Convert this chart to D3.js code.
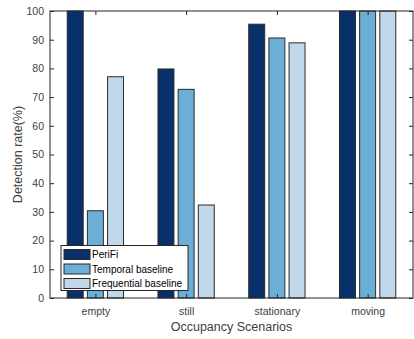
<!DOCTYPE html>
<html><head><meta charset="utf-8">
<script src="https://cdn.jsdelivr.net/npm/d3@7/dist/d3.min.js"></script>
<style>body{margin:0;background:#fff}svg{display:block}text{font-family:"Liberation Sans",Arial,sans-serif}</style>
</head><body>
<script>
const categories = ["empty","still","stationary","moving"];
const seriesNames = ["PeriFi","Temporal baseline","Frequential baseline"];
const periFi = [100, 79.8, 95.4, 100];
const temporal = [30.4, 72.7, 90.6, 100];
const frequential = [77.1, 32.4, 88.9, 100];
const yTicks = [0,10,20,30,40,50,60,70,80,90,100];
const colors = ["#08306b","#6baed6","#c0d8ea"];

const W=414,H=339;
const m={l:50,r:413,t:11,b:298};
const svg=d3.select("body").append("svg").attr("width",W).attr("height",H);
const x=d3.scaleLinear().domain([0.5,4.5]).range([m.l,m.r]);
const y=d3.scaleLinear().domain([0,100]).range([m.b,m.t]);
const series=[periFi,temporal,frequential];
const offs=[-0.2222,0,0.2222], bw=0.176;

series.forEach((s,si)=>{
  svg.append("g").selectAll("rect").data(s).join("rect")
    .attr("x",(d,i)=>x(i+1+offs[si]-bw/2))
    .attr("width",x(bw)-x(0))
    .attr("y",d=>y(d))
    .attr("height",d=>y(0)-y(d))
    .attr("fill",colors[si]).attr("stroke","#2b2b2b").attr("stroke-width",1);
});

const ac="#262626", tc="#404040";
const ga=svg.append("g").attr("transform",`translate(${m.l},0)`)
  .call(d3.axisLeft(y).tickValues(yTicks).tickSize(-4).tickPadding(6));
ga.select(".domain").remove();
ga.selectAll("line").attr("stroke",ac);
ga.selectAll("text").attr("font-size",10.5).attr("fill",tc);
const gr=svg.append("g").attr("transform",`translate(${m.r},0)`)
  .call(d3.axisRight(y).tickValues(yTicks).tickSize(-4).tickFormat(""));
gr.select(".domain").remove();
gr.selectAll("line").attr("stroke",ac);
const gb=svg.append("g").attr("transform",`translate(0,${m.b})`)
  .call(d3.axisBottom(x).tickValues([1,2,3,4]).tickSize(-4).tickPadding(10).tickFormat((d,i)=>categories[i]));
gb.select(".domain").remove();
gb.selectAll("line").attr("stroke",ac);
gb.selectAll("text").attr("font-size",10.5).attr("fill",tc);
const gt=svg.append("g").attr("transform",`translate(0,${m.t})`)
  .call(d3.axisTop(x).tickValues([1,2,3,4]).tickSize(-4).tickFormat(""));
gt.select(".domain").remove();
gt.selectAll("line").attr("stroke",ac);
svg.append("rect").attr("x",m.l).attr("y",m.t).attr("width",m.r-m.l).attr("height",m.b-m.t)
  .attr("fill","none").attr("stroke",ac).attr("stroke-width",1);

svg.append("text").attr("x",(m.l+m.r)/2).attr("y",331).attr("text-anchor","middle")
  .attr("font-size",12.5).attr("fill",tc).text("Occupancy Scenarios");
svg.append("text").attr("transform",`translate(22,${(m.t+m.b)/2}) rotate(-90)`).attr("text-anchor","middle")
  .attr("font-size",12.5).attr("fill",tc).text("Detection rate(%)");

const lg=svg.append("g");
lg.append("rect").attr("x",61).attr("y",245.5).attr("width",127).attr("height",45)
  .attr("fill","#fff").attr("stroke",ac).attr("stroke-width",1);
seriesNames.forEach((n,i)=>{
  const cy=254.5+i*14.5;
  lg.append("rect").attr("x",64).attr("y",cy-5).attr("width",26).attr("height",10)
    .attr("fill",colors[i]).attr("stroke","#2b2b2b");
  lg.append("text").attr("x",92).attr("y",cy+3.5).attr("font-size",10).attr("fill","#000").text(n);
});
</script>
</body></html>
